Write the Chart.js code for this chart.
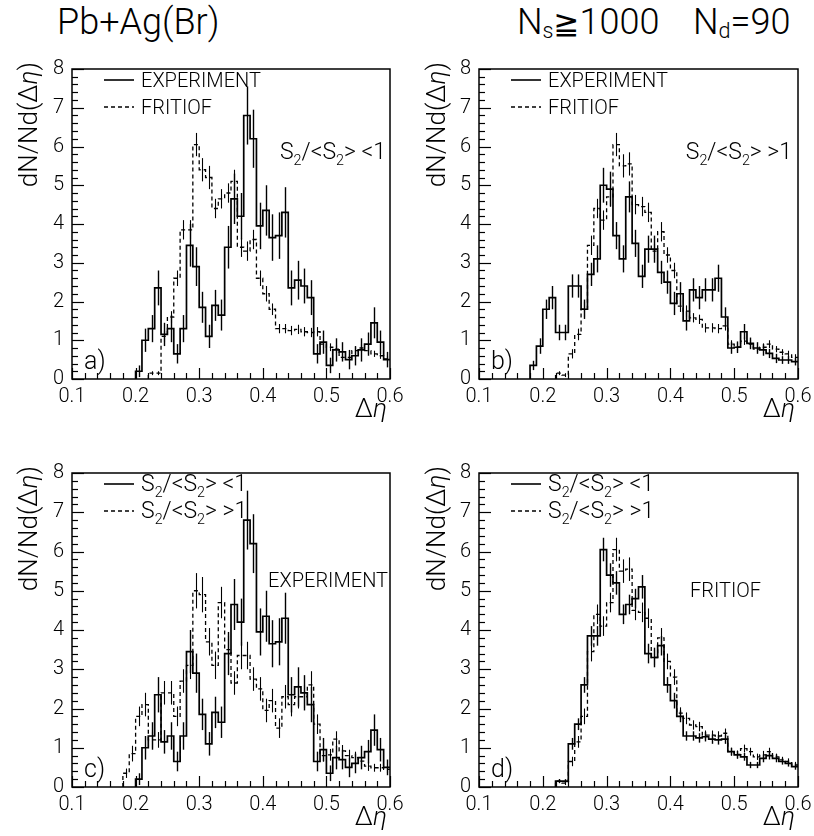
<!DOCTYPE html>
<html>
<head>
<meta charset="utf-8">
<script src="https://cdn.jsdelivr.net/npm/chart.js@4/dist/chart.umd.min.js"></script>
<style>
  html, body { margin: 0; padding: 0; background: #fff; }
  body { width: 814px; height: 836px; position: relative; overflow: hidden;
         font-family: Roboto, "Liberation Sans", Arial, sans-serif; font-weight: 300; color: #000; }
  canvas { position: absolute; }
  .ttl { position: absolute; font-size: 36px; line-height: 42px; white-space: pre; }
  .ttl sub { font-size: 60%; vertical-align: -0.2em; line-height: 0; }
</style>
</head>
<body>
<div class="ttl" style="left:57px; top:1px;">Pb+Ag(Br)</div>
<div class="ttl" style="left:517px; top:1px;">N<sub>s</sub><span style="font-family:'DejaVu Sans'; font-weight:normal; font-size:31px">≧</span>1000</div>
<div class="ttl" style="left:693px; top:1px;">N<sub>d</sub>=90</div>

<canvas id="pa" width="410" height="380" style="left:0px; top:50px;"></canvas>
<canvas id="pb" width="404" height="380" style="left:410px; top:50px;"></canvas>
<canvas id="pc" width="410" height="396" style="left:0px; top:440px;"></canvas>
<canvas id="pd" width="404" height="396" style="left:410px; top:440px;"></canvas>

<script>
// Δη histograms, bin width 0.01; each array starts at its *_START low edge.
const BIN = 0.01;
const X_TICKS = [0.1, 0.2, 0.3, 0.4, 0.5, 0.6];
const Y_TICKS = [0, 1, 2, 3, 4, 5, 6, 7, 8];

// Experiment, S2/<S2> < 1
const EXP_LO_START = 0.20;
const EXP_LO = [0.2, 1.0, 1.3, 2.35, 1.15, 1.3, 0.65, 1.3, 3.45, 2.9,
                1.85, 1.1, 1.9, 1.65, 3.4, 4.65, 4.2, 6.8, 6.2, 3.95,
                4.35, 3.65, 3.7, 4.3, 2.35, 2.55, 2.4, 2.1, 0.65, 0.95,
                0.35, 0.75, 0.7, 0.5, 0.6, 0.75, 0.9, 1.45, 0.95, 0.5];
const EXP_LO_ERR = [0.15, 0.3, 0.35, 0.45, 0.3, 0.35, 0.25, 0.35, 0.55, 0.5,
                    0.4, 0.3, 0.4, 0.4, 0.55, 0.65, 0.6, 0.75, 0.75, 0.6,
                    0.65, 0.6, 0.6, 0.65, 0.45, 0.5, 0.45, 0.45, 0.25, 0.3,
                    0.2, 0.3, 0.25, 0.25, 0.25, 0.3, 0.3, 0.4, 0.3, 0.2];

// Experiment, S2/<S2> > 1
const EXP_HI_START = 0.18;
const EXP_HI = [0.35, 0.85, 1.8, 2.1, 1.2, 1.2, 2.4, 2.4, 1.8, 2.7,
                3.1, 5.0, 4.9, 3.7, 3.1, 4.7, 3.5, 2.65, 3.35, 3.35,
                2.75, 2.5, 1.95, 2.2, 1.5, 2.3, 2.1, 2.3, 2.3, 2.6,
                1.6, 0.8, 0.82, 1.22, 0.92, 0.8, 0.75, 0.66, 0.53, 0.49,
                0.49, 0.45];
const EXP_HI_ERR = [0.12, 0.2, 0.25, 0.3, 0.2, 0.2, 0.3, 0.3, 0.25, 0.3,
                    0.35, 0.45, 0.45, 0.35, 0.35, 0.4, 0.35, 0.3, 0.35, 0.35,
                    0.3, 0.3, 0.3, 0.3, 0.25, 0.3, 0.3, 0.3, 0.3, 0.35,
                    0.25, 0.15, 0.15, 0.2, 0.15, 0.15, 0.15, 0.12, 0.12, 0.1,
                    0.1, 0.1];

// FRITIOF, S2/<S2> < 1
const FRI_LO_START = 0.22;
const FRI_LO = [0.15, 0.15, 1.1, 1.6, 2.6, 3.85, 3.85, 6.05, 5.4, 5.2,
                4.4, 4.65, 4.8, 5.1, 3.4, 3.3, 3.6, 2.6, 2.2, 1.8,
                1.3, 1.3, 1.25, 1.28, 1.22, 1.2, 1.22, 0.9, 0.82, 0.77,
                0.56, 0.56, 0.73, 0.8, 0.73, 0.65, 0.6, 0.52];
const FRI_LO_ERR = [0.05, 0.05, 0.15, 0.15, 0.2, 0.25, 0.25, 0.3, 0.3, 0.3,
                    0.25, 0.25, 0.25, 0.3, 0.25, 0.25, 0.25, 0.2, 0.2, 0.15,
                    0.12, 0.12, 0.12, 0.12, 0.12, 0.12, 0.12, 0.1, 0.1, 0.1,
                    0.08, 0.08, 0.1, 0.1, 0.1, 0.08, 0.08, 0.08];

// FRITIOF, S2/<S2> > 1
const FRI_HI_START = 0.22;
const FRI_HI = [0.15, 0.1, 0.65, 1.15, 1.8, 3.45, 4.4, 4.1, 4.7, 6.05,
                5.5, 5.55, 4.5, 4.45, 4.3, 3.3, 3.8, 3.2, 2.8, 1.88,
                1.75, 1.58, 1.54, 1.32, 1.32, 1.3, 1.37, 0.9, 0.83, 0.98,
                0.9, 0.77, 0.82, 0.9, 0.77, 0.69, 0.65, 0.56];
const FRI_HI_ERR = [0.05, 0.05, 0.12, 0.15, 0.2, 0.25, 0.25, 0.25, 0.25, 0.3,
                    0.3, 0.3, 0.25, 0.25, 0.25, 0.2, 0.25, 0.2, 0.2, 0.15,
                    0.15, 0.12, 0.12, 0.12, 0.12, 0.12, 0.12, 0.1, 0.1, 0.1,
                    0.1, 0.08, 0.1, 0.1, 0.08, 0.08, 0.08, 0.08];

const FONT = 'Roboto, "Liberation Sans", Arial, sans-serif';
const WEIGHT = '300';

// Small markup for labels: "_x" = subscript char, "~x" = italic char.
function parseRich(str) {
  const parts = [];
  for (let i = 0; i < str.length; i++) {
    const c = str[i];
    if ((c === '_' || c === '~') && i + 1 < str.length) {
      parts.push({ t: str[i + 1], sub: c === '_', it: c === '~' });
      i++;
    } else {
      const last = parts[parts.length - 1];
      if (last && !last.sub && !last.it) last.t += c;
      else parts.push({ t: c });
    }
  }
  return parts;
}
function richFont(p, size) {
  return (p.it ? 'italic ' : '') + WEIGHT + ' ' + (p.sub ? size * 0.62 : size) + 'px ' + FONT;
}
function drawRich(ctx, str, x, y, size, align) {
  const parts = parseRich(str);
  let w = 0;
  parts.forEach(p => { ctx.font = richFont(p, size); w += ctx.measureText(p.t).width; });
  let cx = align === 'right' ? x - w : (align === 'center' ? x - w / 2 : x);
  ctx.textAlign = 'left';
  ctx.textBaseline = 'alphabetic';
  parts.forEach(p => {
    ctx.font = richFont(p, size);
    ctx.fillText(p.t, cx, y + (p.sub ? size * 0.28 : 0));
    cx += ctx.measureText(p.t).width;
  });
}

// Step outline of a histogram: rise from zero at the first edge, then one point per bin.
function histPoints(start, vals) {
  const pts = [{ x: start, y: 0 }];
  vals.forEach((v, i) => pts.push({ x: +(start + i * BIN).toFixed(4), y: v }));
  pts.push({ x: +(start + vals.length * BIN).toFixed(4), y: vals[vals.length - 1] });
  return pts;
}

const SERIES = {
  expLo: { start: EXP_LO_START, values: EXP_LO, errors: EXP_LO_ERR },
  expHi: { start: EXP_HI_START, values: EXP_HI, errors: EXP_HI_ERR },
  friLo: { start: FRI_LO_START, values: FRI_LO, errors: FRI_LO_ERR },
  friHi: { start: FRI_HI_START, values: FRI_HI, errors: FRI_HI_ERR }
};

// Frame, inward ticks, error bars and the in-panel texts.
const panelDecor = {
  id: 'panelDecor',
  afterDatasetsDraw(chart, args, o) {
    const { ctx, chartArea: a, scales: { x, y } } = chart;
    ctx.save();
    ctx.strokeStyle = '#000';
    ctx.fillStyle = '#000';
    ctx.setLineDash([]);

    // error bars at bin centres
    chart.data.datasets.forEach(ds => {
      ctx.lineWidth = ds.borderDash.length ? 1.1 : 1.4;
      ds.errors.forEach((e, i) => {
        const v = ds.values[i];
        const px = Math.round(x.getPixelForValue(ds.start + (i + 0.5) * BIN)) + 0.5;
        ctx.beginPath();
        ctx.moveTo(px, y.getPixelForValue(Math.max(0, v - e)));
        ctx.lineTo(px, y.getPixelForValue(Math.min(8, v + e)));
        ctx.stroke();
      });
    });

    // frame
    ctx.lineWidth = 1.5;
    ctx.strokeRect(a.left, a.top, a.right - a.left, a.bottom - a.top);

    // inward ticks
    ctx.lineWidth = 1.2;
    for (let k = 0; k <= 25; k++) {
      const v = 0.1 + k * 0.02;
      const px = Math.round(x.getPixelForValue(v)) + 0.5;
      const len = k % 5 === 0 ? 11 : 6;
      ctx.beginPath(); ctx.moveTo(px, a.bottom); ctx.lineTo(px, a.bottom - len); ctx.stroke();
    }
    for (let k = 0; k <= 40; k++) {
      const py = Math.round(y.getPixelForValue(k * 0.2)) + 0.5;
      const len = k % 5 === 0 ? 12 : 6;
      ctx.beginPath(); ctx.moveTo(a.left, py); ctx.lineTo(a.left + len, py); ctx.stroke();
    }

    // legend
    o.legend.forEach(l => {
      ctx.lineWidth = l.dash ? 1.3 : 1.6;
      ctx.setLineDash(l.dash ? [4, 3] : []);
      ctx.beginPath();
      ctx.moveTo(a.left + 32, a.top + l.dy);
      ctx.lineTo(a.left + 62, a.top + l.dy);
      ctx.stroke();
      ctx.setLineDash([]);
      drawRich(ctx, l.text, a.left + 69, a.top + l.dy + 7, l.size, 'left');
    });

    // notes inside the frame
    o.notes.forEach(n => drawRich(ctx, n.text, n.x, n.y, n.size, n.align));

    // panel tag
    drawRich(ctx, o.tag, a.left + 12, a.bottom - 10, 25, 'left');

    // axis titles
    drawRich(ctx, 'Δ~η', a.right - 3, a.bottom + 38, 26, 'right');
    ctx.save();
    ctx.translate(o.yTitleX, a.top - 7);
    ctx.rotate(-Math.PI / 2);
    drawRich(ctx, 'dN/Nd(Δ~η)', 0, 9, 26, 'right');
    ctx.restore();

    ctx.restore();
  }
};

function makePanel(id, pad, yw, xh, series, decor) {
  const datasets = series.map(([key, dash]) => {
    const s = SERIES[key];
    return {
      data: histPoints(s.start, s.values),
      start: s.start, values: s.values, errors: s.errors,
      stepped: true,
      borderColor: '#000',
      borderWidth: dash ? 1.3 : 1.7,
      borderDash: dash ? [4, 3] : [],
      pointRadius: 0,
      fill: false,
      tension: 0
    };
  });
  const tickFont = { family: FONT, size: 20, weight: WEIGHT };
  return new Chart(document.getElementById(id), {
    type: 'line',
    data: { datasets },
    options: {
      responsive: false,
      animation: false,
      events: [],
      layout: { padding: pad },
      plugins: { legend: { display: false }, tooltip: { enabled: false }, panelDecor: decor },
      scales: {
        x: {
          type: 'linear', min: 0.1, max: 0.6,
          afterBuildTicks: s => { s.ticks = X_TICKS.map(v => ({ value: v })); },
          afterFit: s => { s.height = xh; s.paddingLeft = 0; s.paddingRight = 0; },
          ticks: { font: tickFont, color: '#000', padding: 6, maxRotation: 0, autoSkip: false,
                   callback: v => v.toFixed(1) },
          grid: { display: false, drawTicks: false },
          border: { display: false }
        },
        y: {
          min: 0, max: 8,
          afterBuildTicks: s => { s.ticks = Y_TICKS.map(v => ({ value: v })); },
          afterFit: s => { s.width = yw; s.paddingTop = 0; s.paddingBottom = 0; },
          ticks: { font: tickFont, color: '#000', padding: 8, autoSkip: false,
                   callback: v => String(v) },
          grid: { display: false, drawTicks: false },
          border: { display: false }
        }
      }
    },
    plugins: [panelDecor]
  });
}

const LEG_EXP = [{ dy: 11, dash: false, text: 'EXPERIMENT', size: 20 },
                 { dy: 38, dash: true, text: 'FRITIOF', size: 20 }];
const LEG_S2 = [{ dy: 11, dash: false, text: 'S_2/<S_2> <1', size: 23 },
                { dy: 38, dash: true, text: 'S_2/<S_2> >1', size: 23 }];

// a) experiment vs FRITIOF, S2/<S2> < 1
makePanel('pa', { left: 0, top: 19, right: 20, bottom: 0 }, 72, 51,
  [['expLo', false], ['friLo', true]],
  { legend: LEG_EXP, tag: 'a)', yTitleX: 28,
    notes: [{ text: 'S_2/<S_2> <1', x: 386, y: 109, size: 23, align: 'right' }] });

// b) experiment vs FRITIOF, S2/<S2> > 1
makePanel('pb', { left: 0, top: 19, right: 16, bottom: 0 }, 69, 51,
  [['expHi', false], ['friHi', true]],
  { legend: LEG_EXP, tag: 'b)', yTitleX: 26,
    notes: [{ text: 'S_2/<S_2> >1', x: 382, y: 109, size: 23, align: 'right' }] });

// c) experiment, both S2 classes
makePanel('pc', { left: 0, top: 33, right: 20, bottom: 0 }, 72, 49,
  [['expLo', false], ['expHi', true]],
  { legend: LEG_S2, tag: 'c)', yTitleX: 28,
    notes: [{ text: 'EXPERIMENT', x: 388, y: 147, size: 20, align: 'right' }] });

// d) FRITIOF, both S2 classes
makePanel('pd', { left: 0, top: 33, right: 16, bottom: 0 }, 69, 49,
  [['friLo', false], ['friHi', true]],
  { legend: LEG_S2, tag: 'd)', yTitleX: 26,
    notes: [{ text: 'FRITIOF', x: 280, y: 157, size: 20, align: 'left' }] });
</script>
</body>
</html>
